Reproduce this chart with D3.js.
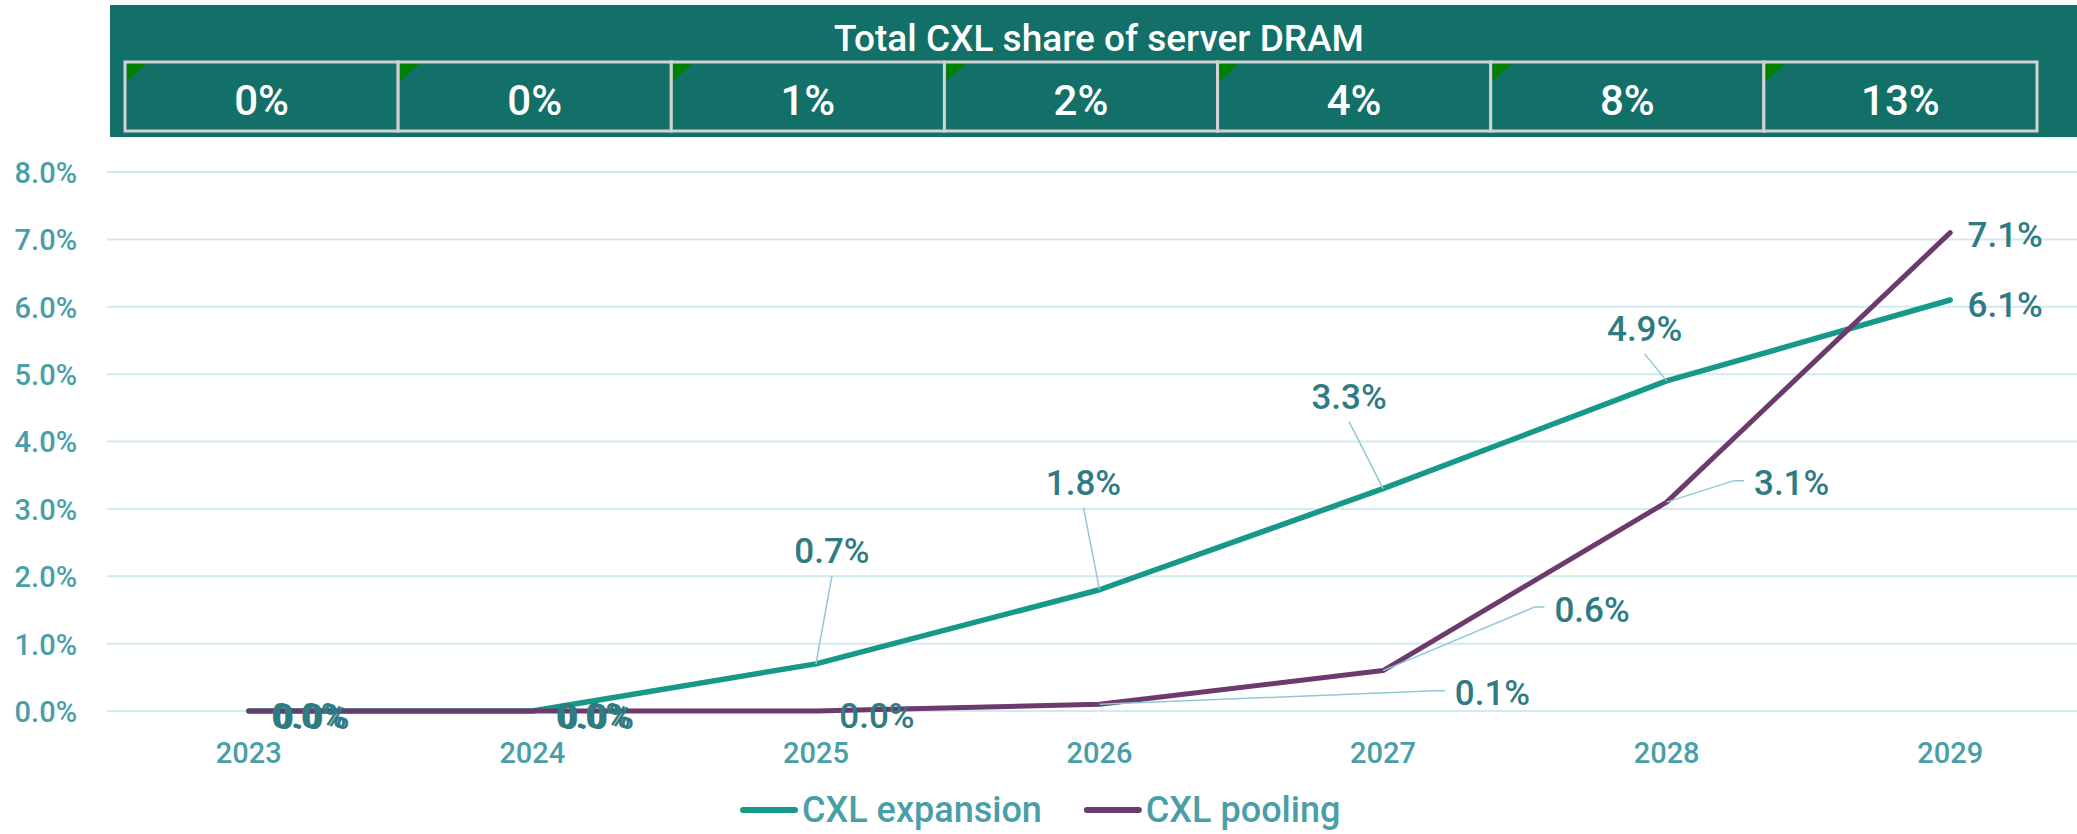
<!DOCTYPE html>
<html>
<head>
<meta charset="utf-8">
<script src="https://cdn.jsdelivr.net/npm/d3@7"></script>
<style>
    html, body { margin: 0; padding: 0; background: #fff; }
    svg { display: block; font-family: Roboto, "DejaVu Sans", sans-serif; }
</style>
</head>
<body>
<svg id="chart"></svg>
<script>
(function (d3) {
    'use strict';

    // chart values
    var years = ['2023', '2024', '2025', '2026', '2027', '2028', '2029'];
    var expansion = [0.000, 0.000, 0.007, 0.018, 0.033, 0.049, 0.061];
    var pooling = [0.000, 0.000, 0.000, 0.001, 0.006, 0.031, 0.071];
    var dramShare = ['0%', '0%', '1%', '2%', '4%', '8%', '13%'];
    var yTicks = [0, 0.01, 0.02, 0.03, 0.04, 0.05, 0.06, 0.07, 0.08];
    var headerTitle = 'Total CXL share of server DRAM';
    var seriesNames = ['CXL expansion', 'CXL pooling'];

    // where each data label sits relative to its point, and its leader style
    var expansionLabels = [[60, 5, 'none'], [61, 5, 'none'], [16, -113, 'up'], [-16, -107, 'up'],
        [-34, -92, 'up'], [-22, -52, 'up'], [55, 5, 'none']];
    var poolingLabels = [[63, 6, 'none'], [64, 6, 'none'], [61, 5, 'none'], [393, -11, 'side'],
        [209, -61, 'side'], [125, -19, 'side'], [55, 2, 'none']];

    var width = 2077,
        height = 834;

    var colors = {
        header: '#127068',
        cellBorder: '#d2d2d2',
        flag: '#008000',
        grid: '#d3e9ef',
        axisText: '#4a9ea8',
        labelText: '#2e7b84',
        leader: '#8fcad3',
        expansion: '#17998a',
        pooling: '#6c3a6c'
    };

    var svg = d3.select('#chart')
        .attr('width', width)
        .attr('height', height);

    // ---- header table ----
    svg.append('rect')
        .attr('x', 110).attr('y', 5)
        .attr('width', width - 110).attr('height', 132)
        .attr('fill', colors.header);

    svg.append('text')
        .attr('x', 1099).attr('y', 51)
        .attr('text-anchor', 'middle')
        .attr('fill', '#fff')
        .style('font-size', '37px')
        .style('font-weight', 500)
        .text(headerTitle);

    var hx = d3.scaleBand().domain(years).range([125, 2037]);

    var cells = svg.selectAll('.cell')
        .data(dramShare)
        .enter()
        .append('g')
        .attr('class', 'cell')
        .attr('transform', function (d, i) { return 'translate(' + hx(years[i]) + ',62)'; });

    cells.append('rect')
        .attr('width', hx.bandwidth())
        .attr('height', 69)
        .attr('fill', colors.header)
        .attr('stroke', colors.cellBorder)
        .attr('stroke-width', 3);

    cells.append('path')
        .attr('d', 'M2,2 L21,2 L2,19 Z')
        .attr('fill', colors.flag);

    cells.append('text')
        .attr('x', hx.bandwidth() / 2)
        .attr('y', 53)
        .attr('text-anchor', 'middle')
        .attr('fill', '#fff')
        .style('font-size', '42px')
        .style('font-weight', 500)
        .text(function (d) { return d; });

    // ---- plot ----
    var x = d3.scaleBand().domain(years).range([107, 2092]);
    var y = d3.scaleLinear().domain([0, 0.08]).range([711, 172]);
    var cx = function (d) { return x(d) + x.bandwidth() / 2; };

    svg.append('g')
        .attr('class', 'grid')
        .selectAll('line')
        .data(yTicks)
        .enter()
        .append('line')
        .attr('x1', 107).attr('x2', 2092)
        .attr('y1', function (d) { return y(d); })
        .attr('y2', function (d) { return y(d); })
        .attr('stroke', colors.grid)
        .attr('stroke-width', 2);

    var yAxis = svg.append('g')
        .attr('class', 'axis axis--y')
        .attr('transform', 'translate(107,0)')
        .call(d3.axisLeft(y).tickValues(yTicks).tickSize(0).tickPadding(30).tickFormat(d3.format('.1%')));

    svg.append('g')
        .attr('class', 'axis axis--x')
        .attr('transform', 'translate(0,711)')
        .call(d3.axisBottom(x).tickSize(0).tickPadding(31));

    svg.selectAll('.axis .domain').remove();
    svg.selectAll('.axis text')
        .attr('fill', colors.axisText)
        .style('font-family', 'Roboto, sans-serif')
        .style('font-size', '29px')
        .style('font-weight', 500);
    yAxis.selectAll('text').attr('dy', '0.36em');

    var line = d3.line()
        .x(function (d, i) { return cx(years[i]); })
        .y(function (d) { return y(d); });

    var series = [
        { name: seriesNames[0], values: expansion, color: colors.expansion, width: 5.5, labels: expansionLabels },
        { name: seriesNames[1], values: pooling, color: colors.pooling, width: 5, labels: poolingLabels }
    ];

    svg.selectAll('.series')
        .data(series)
        .enter()
        .append('path')
        .attr('class', 'series')
        .attr('d', function (s) { return line(s.values); })
        .attr('fill', 'none')
        .attr('stroke', function (s) { return s.color; })
        .attr('stroke-width', function (s) { return s.width; })
        .attr('stroke-linecap', 'round')
        .attr('stroke-linejoin', 'round');

    // data labels with leader lines
    var fmt = d3.format('.1%');
    series.forEach(function (s) {
        s.values.forEach(function (v, i) {
            var px = cx(years[i]),
                py = y(v),
                lx = px + s.labels[i][0],
                ly = py + s.labels[i][1],
                kind = s.labels[i][2];

            var t = svg.append('text')
                .attr('class', 'data-label')
                .attr('x', lx)
                .attr('y', ly + 12)
                .attr('text-anchor', 'middle')
                .attr('fill', colors.labelText)
                .style('font-size', '35px')
                .style('font-weight', 500)
                .text(fmt(v));

            if (kind === 'up') {
                svg.insert('line', '.data-label')
                    .attr('x1', px).attr('y1', py)
                    .attr('x2', lx).attr('y2', ly + 25)
                    .attr('stroke', colors.leader)
                    .attr('stroke-width', 1.5);
            } else if (kind === 'side') {
                var left = t.node().getBBox().x;
                svg.insert('polyline', '.data-label')
                    .attr('points', [[px, py], [left - 20, ly - 2.5], [left - 10, ly - 2.5]].join(' '))
                    .attr('fill', 'none')
                    .attr('stroke', colors.leader)
                    .attr('stroke-width', 1.5);
            }
        });
    });

    // ---- legend ----
    var legend = svg.append('g').attr('class', 'legend');
    var lxPos = 740;
    series.forEach(function (s) {
        var g = legend.append('g').attr('transform', 'translate(' + lxPos + ',810)');
        g.append('line')
            .attr('x1', 3).attr('x2', 55)
            .attr('stroke', s.color)
            .attr('stroke-width', 6)
            .attr('stroke-linecap', 'round');
        var t = g.append('text')
            .attr('x', 62)
            .attr('y', 12)
            .attr('fill', colors.axisText)
            .style('font-size', '36px')
            .style('font-weight', 500)
            .text(s.name);
        lxPos += 62 + t.node().getComputedTextLength() + 42;
    });

})(window.d3);
</script>
</body>
</html>
